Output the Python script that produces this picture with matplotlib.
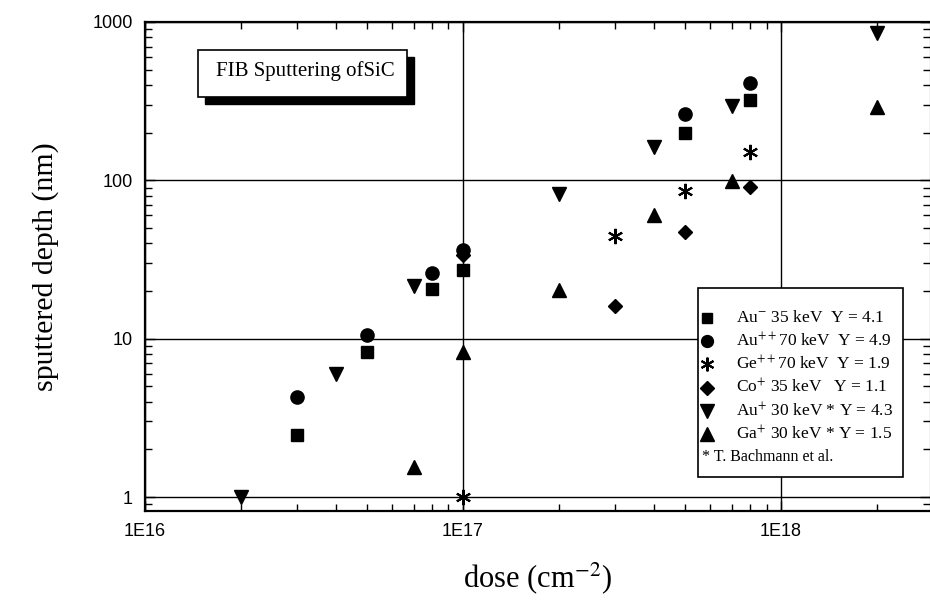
import matplotlib
matplotlib.use("Agg")
import matplotlib.pyplot as plt
from matplotlib.patches import Rectangle
from matplotlib.ticker import LogLocator, NullFormatter, FixedFormatter, FixedLocator

plt.rcParams['mathtext.fontset'] = 'stix'

# dose (cm^-2) and sputtered depth (nm)
au_minus_x = [3e16, 5e16, 8e16, 1e17, 5e17, 8e17]
au_minus_y = [2.45, 8.2, 20.5, 27, 200, 320]

au_pp_x = [3e16, 5e16, 8e16, 1e17, 5e17, 8e17]
au_pp_y = [4.3, 10.5, 26, 36.5, 262, 410]

ge_pp_x = [1e17, 3e17, 5e17, 8e17]
ge_pp_y = [1.0, 44.5, 86, 151]

co_p_x = [1e17, 3e17, 5e17, 8e17]
co_p_y = [34, 16, 47, 91]

au_p_x = [2e16, 4e16, 7e16, 2e17, 4e17, 7e17, 2e18]
au_p_y = [1.0, 6.0, 21.5, 82, 163, 295, 850]

ga_p_x = [7e16, 1e17, 2e17, 4e17, 7e17, 2e18]
ga_p_y = [1.55, 8.2, 20.3, 60, 99, 291]

legend_labels = ['Au$^{-}$ 35 keV  Y = 4.1',
                 'Au$^{++}$70 keV  Y = 4.9',
                 'Ge$^{++}$70 keV  Y = 1.9',
                 'Co$^{+}$ 35 keV   Y = 1.1',
                 'Au$^{+}$ 30 keV * Y = 4.3',
                 'Ga$^{+}$ 30 keV * Y = 1.5']
legend_note = '* T. Bachmann et al.'
star = (6, 2, 0)
styles = [dict(marker='s', ms=8.5),
          dict(marker='o', ms=9.5),
          dict(marker=star, ms=11, mew=1.5),
          dict(marker='D', ms=7.5),
          dict(marker='v', ms=10.5),
          dict(marker='^', ms=10.5)]
series = [(au_minus_x, au_minus_y), (au_pp_x, au_pp_y), (ge_pp_x, ge_pp_y),
          (co_p_x, co_p_y), (au_p_x, au_p_y), (ga_p_x, ga_p_y)]

W, H = 930, 603
fig = plt.figure(figsize=(W / 100, H / 100), dpi=100)
# axes box in pixels: left 145, right 930, top 22, bottom 511
ax = fig.add_axes([145 / W, 1 - 511 / H, 785 / W, 489 / H])

for (xs, ys), st in zip(series, styles):
    ax.plot(xs, ys, linestyle='none', color='black', mec='black', **st)

ax.set_xscale('log')
ax.set_yscale('log')
ax.set_xlim(1e16, 2.94e18)
ax.set_ylim(0.816, 1000)

ax.xaxis.set_major_locator(FixedLocator([1e16, 1e17, 1e18]))
ax.xaxis.set_major_formatter(FixedFormatter(['1E16', '1E17', '1E18']))
ax.yaxis.set_major_locator(FixedLocator([1, 10, 100, 1000]))
ax.yaxis.set_major_formatter(FixedFormatter(['1', '10', '100', '1000']))
ax.xaxis.set_minor_locator(LogLocator(base=10, subs=range(2, 10)))
ax.yaxis.set_minor_locator(LogLocator(base=10, subs=range(2, 10)))
ax.xaxis.set_minor_formatter(NullFormatter())
ax.yaxis.set_minor_formatter(NullFormatter())

tick_font = ['Liberation Sans Narrow', 'Liberation Sans', 'DejaVu Sans']
ax.tick_params(which='both', direction='in', top=True, right=True, color='black')
ax.tick_params(which='major', length=7, width=1, pad=9)
ax.tick_params(which='minor', length=5, width=1)
for lab in ax.get_xticklabels() + ax.get_yticklabels():
    lab.set_family(tick_font)
    lab.set_fontsize(13)
    lab.set_fontstretch('condensed')

ax.grid(True, which='major', color='black', linewidth=1)
for s in ['left', 'bottom', 'top']:
    ax.spines[s].set_linewidth(1.6)
ax.spines['right'].set_linewidth(0.8)

serif = ['Liberation Serif', 'DejaVu Serif']
ax.set_xlabel('dose (cm$^{-2}$)', fontsize=22, family=serif, labelpad=14)
ax.set_ylabel('sputtered depth (nm)', fontsize=21.5, family=serif, labelpad=24)


def frac(px, py):
    return (px - 145) / 785, (511 - py) / 489


# title box with drop shadow
x0, y0 = frac(205, 104)
x1, y1 = frac(414, 57)
ax.add_patch(Rectangle((x0, y0), x1 - x0, y1 - y0, transform=ax.transAxes,
                       facecolor='black', edgecolor='black', zorder=5))
x0, y0 = frac(198, 97)
x1, y1 = frac(407, 50)
ax.add_patch(Rectangle((x0, y0), x1 - x0, y1 - y0, transform=ax.transAxes,
                       facecolor='white', edgecolor='black', linewidth=1.2, zorder=6))
tx, ty = frac(305, 71)
ax.text(tx, ty, 'FIB Sputtering ofSiC', transform=ax.transAxes, ha='center', va='center',
        fontsize=15, family=serif, zorder=7)

# legend box
x0, y0 = frac(698, 477)
x1, y1 = frac(903, 288)
ax.add_patch(Rectangle((x0, y0), x1 - x0, y1 - y0, transform=ax.transAxes,
                       facecolor='white', edgecolor='black', linewidth=1.2, zorder=5))
for i, (lab, st) in enumerate(zip(legend_labels, styles)):
    mx, my = frac(707, 318 + 23.2 * i)
    txx, _ = frac(736, 0)
    ax.plot([mx], [my], transform=ax.transAxes, linestyle='none', color='black',
            mec='black', zorder=6, clip_on=False,
            **{k: (v * 0.9 if k == 'ms' else v) for k, v in st.items()})
    ax.text(txx, my, lab, transform=ax.transAxes, ha='left', va='center',
            fontsize=12.5, family=serif, zorder=7)
nx, ny = frac(702, 318 + 23.2 * 6)
ax.text(nx, ny, legend_note, transform=ax.transAxes, ha='left', va='center',
        fontsize=11.5, family=serif, zorder=7)

fig.savefig('out.png', dpi=100)
